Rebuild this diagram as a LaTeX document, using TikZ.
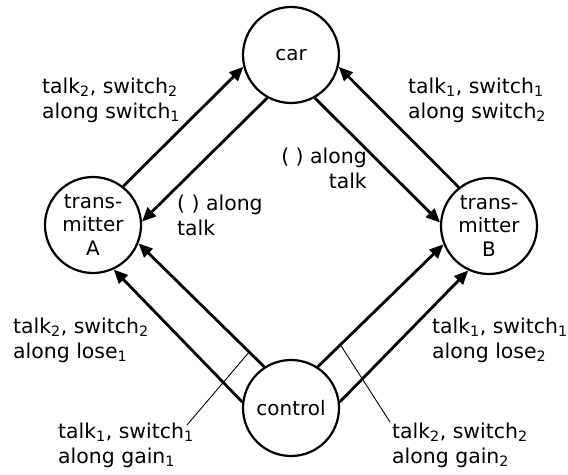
\documentclass[tikz,border=0pt]{standalone}
\usepackage{fontspec}
\setmainfont{DejaVu Sans}
\usetikzlibrary{arrows.meta}
\begin{document}
\begin{tikzpicture}[x=1bp,y=-1bp,
  state/.style={circle,draw,line width=2.2bp,minimum size=96bp,inner sep=0pt,align=center,
    font=\fontsize{20}{24}\selectfont},
  flow/.style={line width=2.8bp,-{Triangle[length=14bp,width=12bp]}},
  lab/.style={inner sep=0pt,font=\fontsize{20.5}{25}\selectfont},
  leader/.style={line width=0.9bp}]
\useasboundingbox (0,0) rectangle (568,475);
\node[state] (car) at (291,55) {car};
\node[state] (A) at (93,225) {trans-\\mitter\\A};
\node[state] (B) at (489,226) {trans-\\mitter\\B};
\node[state] (ctrl) at (291,408) {control};
% car <-> A
\draw[flow] (A.52) -- (car.194);
\draw[flow] (car.241) -- (A.4);
% car <-> B
\draw[flow] (car.299) -- (B.176);
\draw[flow] (B.128) -- (car.346);
% control -> A
\draw[flow] (ctrl.123) -- coordinate[pos=0.12] (g1) (A.338);
\draw[flow] (ctrl.173) -- (A.295);
% control -> B
\draw[flow] (ctrl.57) -- coordinate[pos=0.18] (g2) (B.202);
\draw[flow] (ctrl.7) -- (B.245);
% labels
\node[lab,align=left,anchor=west] (l1) at (42,100) {talk\textsubscript{2}, switch\textsubscript{2}\\along switch\textsubscript{1}};
\node[lab,align=left,anchor=west] (l2) at (177,215) {( ) along\\talk};
\node[lab,align=left,anchor=west] (l3) at (408,100) {talk\textsubscript{1}, switch\textsubscript{1}\\along switch\textsubscript{2}};
\node[lab,align=right,anchor=east] (l4) at (367,168) {( ) along\\talk};
\node[lab,align=left,anchor=west] (l5) at (13,340) {talk\textsubscript{2}, switch\textsubscript{2}\\along lose\textsubscript{1}};
\node[lab,align=left,anchor=west] (l6) at (58,445) {talk\textsubscript{1}, switch\textsubscript{1}\\along gain\textsubscript{1}};
\node[lab,align=left,anchor=west] (l7) at (432,340) {talk\textsubscript{1}, switch\textsubscript{1}\\along lose\textsubscript{2}};
\node[lab,align=left,anchor=west] (l8) at (392,445) {talk\textsubscript{2}, switch\textsubscript{2}\\along gain\textsubscript{2}};
% leaders
\coordinate (e1) at (187,425);
\coordinate (e2) at (390,422);
\draw[leader] (e1) -- (g1);
\draw[leader] (e2) -- (g2);
\end{tikzpicture}
\end{document}
